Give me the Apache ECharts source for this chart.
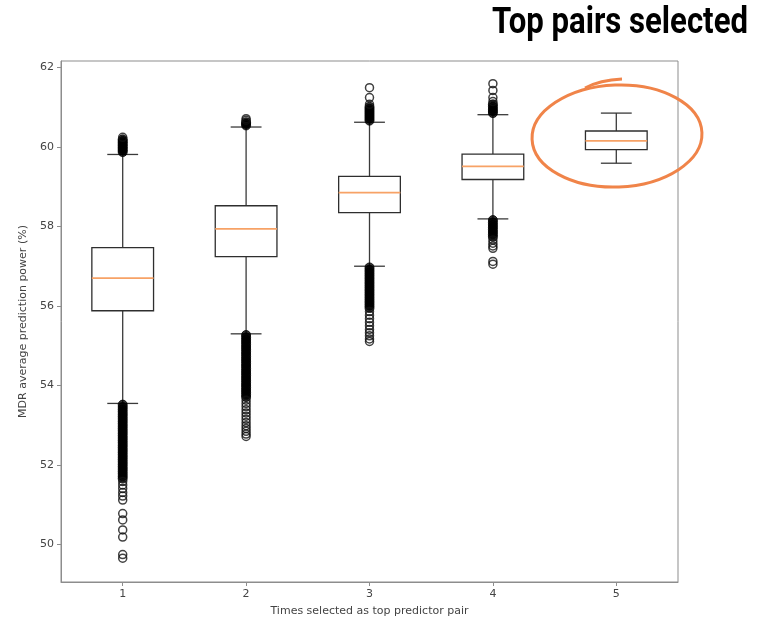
<!DOCTYPE html>
<html><head><meta charset="utf-8">
<script src="https://cdn.jsdelivr.net/npm/echarts@6/dist/echarts.min.js"></script>
<style>html,body{margin:0;padding:0;background:#fff}#c{width:764px;height:619px}</style>
</head><body><div id="c"></div>
<script>
const categories = ['1', '2', '3', '4', '5'];
const yTicks = [50, 52, 54, 56, 58, 60, 62];
const whiskerLow = [53.55, 55.30, 57.00, 58.19, 59.59];
const q1 = [55.88, 57.24, 58.35, 59.18, 59.93];
const median = [56.70, 57.94, 58.85, 59.51, 60.15];
const q3 = [57.47, 58.52, 59.26, 59.82, 60.40];
const whiskerHigh = [59.81, 60.50, 60.62, 60.81, 60.85];

// outliers in densely packed stretches (drawn as overlapping filled markers)
const denseOutliers1 = [59.87, 59.91, 59.95, 59.99, 60.03, 60.07, 60.11, 60.15, 60.19,
  53.52, 53.46, 53.40, 53.34, 53.28, 53.22, 53.16, 53.10, 53.04, 52.98, 52.92, 52.86, 52.80, 52.74, 52.68, 52.62,
  52.56, 52.50, 52.44, 52.38, 52.32, 52.26, 52.20, 52.14, 52.08, 52.02, 51.96, 51.90, 51.84, 51.78, 51.72, 51.66];
const denseOutliers2 = [60.54, 60.58, 60.62,
  55.27, 55.21, 55.15, 55.09, 55.03, 54.97, 54.91, 54.85, 54.79, 54.73, 54.67, 54.61, 54.55, 54.49, 54.43, 54.37,
  54.31, 54.25, 54.19, 54.13, 54.07, 54.01, 53.95, 53.89, 53.83, 53.77, 53.71];
const denseOutliers3 = [60.66, 60.71, 60.76, 60.81, 60.86, 60.91, 60.96, 61.01,
  56.97, 56.91, 56.85, 56.79, 56.73, 56.67, 56.61, 56.55, 56.49, 56.43, 56.37, 56.31, 56.25, 56.19, 56.13, 56.07,
  56.01, 55.95];
const denseOutliers4 = [60.85, 60.90, 60.95, 61.01, 61.07,
  58.16, 58.10, 58.04, 57.98, 57.92, 57.86, 57.80, 57.74];
const denseOutliers5 = [];

// outliers that stand apart (drawn as open circles)
const sparseOutliers1 = [60.24, 51.59, 51.50, 51.41, 51.31, 51.22, 51.12, 50.78, 50.62, 50.37, 50.19, 49.75, 49.66];
const sparseOutliers2 = [60.67, 60.71,
  53.63, 53.55, 53.47, 53.39, 53.31, 53.23, 53.15, 53.07, 52.99, 52.92, 52.85, 52.78, 52.72];
const sparseOutliers3 = [61.07, 61.24, 61.49,
  55.86, 55.77, 55.68, 55.59, 55.50, 55.41, 55.33, 55.25, 55.17, 55.11];
const sparseOutliers4 = [61.14, 61.24, 61.42, 61.59,
  57.66, 57.58, 57.51, 57.45, 57.12, 57.05];
const sparseOutliers5 = [];

const denseAll = [denseOutliers1, denseOutliers2, denseOutliers3, denseOutliers4, denseOutliers5];
const sparseAll = [sparseOutliers1, sparseOutliers2, sparseOutliers3, sparseOutliers4, sparseOutliers5];
const boxData = categories.map((c, i) => [i, whiskerLow[i], q1[i], median[i], q3[i], whiskerHigh[i]]);
const toPoints = groups => {
  const out = [];
  groups.forEach((arr, i) => arr.forEach(v => out.push([i, v])));
  return out;
};

const chart = echarts.init(document.getElementById('c'), null, {renderer: 'canvas'});
const axisColor = '#8d8d8d';
const labelColor = '#444';
const font = 'DejaVu Sans';

// title: condensed bold look via horizontal scaling of a bold face
const titleText = 'Top pairs selected';
const titleFont = 'bold 36px Roboto';
const ctx = document.createElement('canvas').getContext('2d');
ctx.font = titleFont;
const titleW = ctx.measureText(titleText).width;
const titleScale = 256 / titleW;

const option = {
  animation: false,
  backgroundColor: '#fff',
  grid: {left: 61, top: 61, right: 86, bottom: 37, show: true, borderColor: axisColor, borderWidth: 1,
         outerBoundsMode: 'none', containLabel: false},
  xAxis: {
    type: 'category', data: categories, boundaryGap: true,
    name: 'Times selected as top predictor pair', nameLocation: 'middle', nameGap: 24,
    nameTextStyle: {fontFamily: font, fontSize: 11, color: labelColor},
    axisLine: {show: true, lineStyle: {color: axisColor}},
    axisTick: {show: true, alignWithLabel: true, length: 4, lineStyle: {color: axisColor}},
    axisLabel: {fontFamily: font, fontSize: 11, color: labelColor, margin: 7},
    splitLine: {show: false}
  },
  yAxis: {
    type: 'value', min: 49.06, max: 62.16,
    name: 'MDR average prediction power (%)', nameLocation: 'middle', nameGap: 29,
    nameTextStyle: {fontFamily: font, fontSize: 11, color: labelColor},
    axisLine: {show: true, lineStyle: {color: axisColor}},
    axisTick: {show: true, length: 4, customValues: yTicks, lineStyle: {color: axisColor}},
    axisLabel: {fontFamily: font, fontSize: 11, color: labelColor, margin: 7, customValues: yTicks},
    splitLine: {show: false}
  },
  series: [
    {
      type: 'custom',
      data: boxData,
      encode: {x: 0, y: [1, 2, 3, 4, 5]},
      renderItem: function (params, api) {
        const x = api.value(0);
        const lo = api.coord([x, api.value(1)]);
        const b1 = api.coord([x, api.value(2)]);
        const md = api.coord([x, api.value(3)]);
        const b3 = api.coord([x, api.value(4)]);
        const hi = api.coord([x, api.value(5)]);
        const w = api.size([1, 0])[0] * 0.5;
        const cx = lo[0];
        const lineStyle = {stroke: '#3a3a3a', lineWidth: 1.3, fill: 'none'};
        return {
          type: 'group',
          children: [
            {type: 'line', shape: {x1: cx, y1: hi[1], x2: cx, y2: b3[1]}, style: lineStyle},
            {type: 'line', shape: {x1: cx, y1: b1[1], x2: cx, y2: lo[1]}, style: lineStyle},
            {type: 'line', shape: {x1: cx - w / 4, y1: hi[1], x2: cx + w / 4, y2: hi[1]}, style: lineStyle},
            {type: 'line', shape: {x1: cx - w / 4, y1: lo[1], x2: cx + w / 4, y2: lo[1]}, style: lineStyle},
            {type: 'rect', shape: {x: cx - w / 2, y: b3[1], width: w, height: b1[1] - b3[1]}, style: {stroke: '#2e2e2e', lineWidth: 1.3, fill: 'none'}},
            {type: 'line', shape: {x1: cx - w / 2, y1: md[1], x2: cx + w / 2, y2: md[1]}, style: {stroke: '#f7a266', lineWidth: 1.8}}
          ]
        };
      },
      z: 2
    },
    {
      type: 'scatter',
      data: toPoints(denseAll),
      symbol: 'circle',
      symbolSize: 9,
      itemStyle: {color: '#000', borderColor: '#000', borderWidth: 1},
      z: 3
    },
    {
      type: 'scatter',
      data: toPoints(sparseAll),
      symbol: 'circle',
      symbolSize: 8,
      itemStyle: {color: 'rgba(0,0,0,0)', borderColor: '#111', borderWidth: 1.5},
      z: 3
    }
  ],
  graphic: [
    {type: 'text', x: 492, y: 24, scaleX: titleScale, originX: 0, originY: 0,
     style: {text: titleText, font: titleFont, fill: '#000', align: 'left', verticalAlign: 'middle'}, z: 10},
    {type: 'ellipse', shape: {cx: 617, cy: 136, rx: 85, ry: 51}, rotation: 0.04, originX: 617, originY: 136,
     style: {fill: 'none', stroke: '#f08449', lineWidth: 3}, z: 10},
    {type: 'bezierCurve', shape: {x1: 585, y1: 88, cpx1: 600, cpy1: 80, x2: 622, y2: 79},
     style: {fill: 'none', stroke: '#f08449', lineWidth: 3}, z: 10}
  ]
};
chart.setOption(option);
</script></body></html>
